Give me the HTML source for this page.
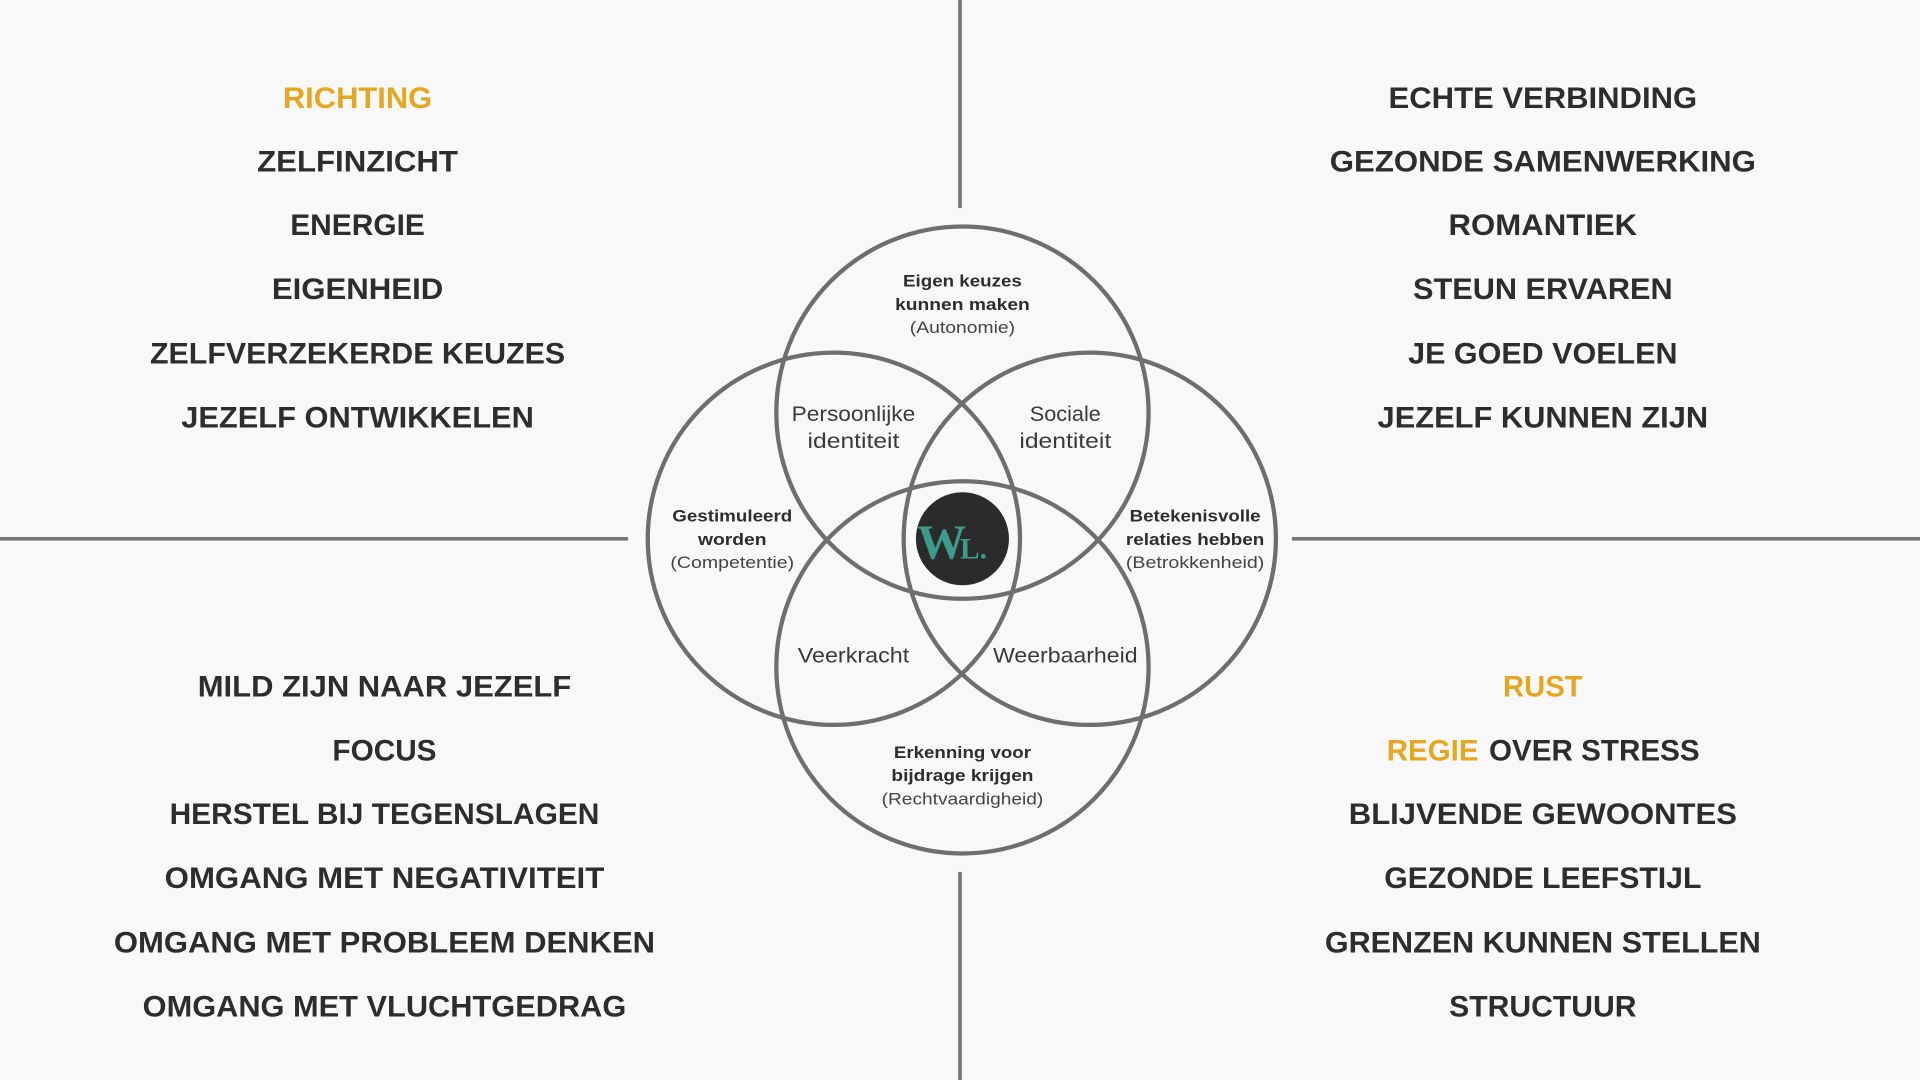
<!DOCTYPE html>
<html><head><meta charset="utf-8"><style>
html,body{margin:0;padding:0;background:#f8f8f8;}
svg{display:block;}
.b{font-family:"Liberation Sans",sans-serif;font-weight:bold;font-size:24px;fill:#2d2d2d;text-anchor:middle;}
.o{fill:#e5a722;}
.s{font-family:"Liberation Sans",sans-serif;font-weight:bold;font-size:13.5px;fill:#2d2d2d;text-anchor:middle;}
.r{font-family:"Liberation Sans",sans-serif;font-size:13.5px;fill:#444;text-anchor:middle;}
.m{font-family:"Liberation Sans",sans-serif;font-size:17px;fill:#3a3a3a;text-anchor:middle;}
</style></head><body>
<svg width="1920" height="1080" viewBox="0 0 1568 882" xmlns="http://www.w3.org/2000/svg">
<rect width="1568" height="882" fill="#f8f8f8"/>
<g stroke="#777" stroke-width="3" fill="none">
<line x1="784" y1="0" x2="784" y2="170"/>
<line x1="784" y1="712" x2="784" y2="882"/>
<line x1="0" y1="440" x2="513" y2="440"/>
<line x1="1055" y1="440" x2="1568" y2="440"/>
</g>
<g stroke="#6e6e6e" stroke-width="3.5" fill="none">
<circle cx="786" cy="337" r="152"/>
<circle cx="681" cy="440" r="152"/>
<circle cx="890" cy="440" r="152"/>
<circle cx="786" cy="545" r="152"/>
</g>
<circle cx="786" cy="440" r="38" fill="#2b2b2b"/>
<text x="749" y="456" font-family="Liberation Serif,serif" font-weight="bold" font-size="40" fill="#3d9b8b">W</text>
<text x="784" y="456" font-family="Liberation Serif,serif" font-weight="bold" font-size="24" fill="#3d9b8b">L.</text>

<g lengthAdjust="spacingAndGlyphs">
<text class="s" x="786" y="234" textLength="97" lengthAdjust="spacingAndGlyphs">Eigen keuzes</text>
<text class="s" x="786" y="253" textLength="110" lengthAdjust="spacingAndGlyphs">kunnen maken</text>
<text class="r" x="786" y="272" textLength="86" lengthAdjust="spacingAndGlyphs">(Autonomie)</text>
<text class="s" x="598" y="426" textLength="98" lengthAdjust="spacingAndGlyphs">Gestimuleerd</text>
<text class="s" x="598" y="445" textLength="56" lengthAdjust="spacingAndGlyphs">worden</text>
<text class="r" x="598" y="464" textLength="101" lengthAdjust="spacingAndGlyphs">(Competentie)</text>
<text class="s" x="976" y="426" textLength="107" lengthAdjust="spacingAndGlyphs">Betekenisvolle</text>
<text class="s" x="976" y="445" textLength="113" lengthAdjust="spacingAndGlyphs">relaties hebben</text>
<text class="r" x="976" y="464" textLength="113" lengthAdjust="spacingAndGlyphs">(Betrokkenheid)</text>
<text class="s" x="786" y="619" textLength="112" lengthAdjust="spacingAndGlyphs">Erkenning voor</text>
<text class="s" x="786" y="638" textLength="116" lengthAdjust="spacingAndGlyphs">bijdrage krijgen</text>
<text class="r" x="786" y="657" textLength="132" lengthAdjust="spacingAndGlyphs">(Rechtvaardigheid)</text>
<text class="m" x="697" y="344" textLength="101" lengthAdjust="spacingAndGlyphs">Persoonlijke</text>
<text class="m" x="697" y="366" textLength="75" lengthAdjust="spacingAndGlyphs">identiteit</text>
<text class="m" x="870" y="344" textLength="58" lengthAdjust="spacingAndGlyphs">Sociale</text>
<text class="m" x="870" y="366" textLength="75" lengthAdjust="spacingAndGlyphs">identiteit</text>
<text class="m" x="697" y="541" textLength="91" lengthAdjust="spacingAndGlyphs">Veerkracht</text>
<text class="m" x="870" y="541" textLength="118" lengthAdjust="spacingAndGlyphs">Weerbaarheid</text>
</g>

<text class="b o" x="292" y="88" textLength="122" lengthAdjust="spacingAndGlyphs">RICHTING</text>
<text class="b" x="292" y="140" textLength="164" lengthAdjust="spacingAndGlyphs">ZELFINZICHT</text>
<text class="b" x="292" y="192" textLength="110" lengthAdjust="spacingAndGlyphs">ENERGIE</text>
<text class="b" x="292" y="244" textLength="140" lengthAdjust="spacingAndGlyphs">EIGENHEID</text>
<text class="b" x="292" y="297" textLength="339" lengthAdjust="spacingAndGlyphs">ZELFVERZEKERDE KEUZES</text>
<text class="b" x="292" y="349" textLength="288" lengthAdjust="spacingAndGlyphs">JEZELF ONTWIKKELEN</text>

<text class="b" x="1260" y="88" textLength="252" lengthAdjust="spacingAndGlyphs">ECHTE VERBINDING</text>
<text class="b" x="1260" y="140" textLength="348" lengthAdjust="spacingAndGlyphs">GEZONDE SAMENWERKING</text>
<text class="b" x="1260" y="192" textLength="154" lengthAdjust="spacingAndGlyphs">ROMANTIEK</text>
<text class="b" x="1260" y="244" textLength="212" lengthAdjust="spacingAndGlyphs">STEUN ERVAREN</text>
<text class="b" x="1260" y="297" textLength="220" lengthAdjust="spacingAndGlyphs">JE GOED VOELEN</text>
<text class="b" x="1260" y="349" textLength="270" lengthAdjust="spacingAndGlyphs">JEZELF KUNNEN ZIJN</text>

<text class="b" x="314" y="569" textLength="305" lengthAdjust="spacingAndGlyphs">MILD ZIJN NAAR JEZELF</text>
<text class="b" x="314" y="621" textLength="85" lengthAdjust="spacingAndGlyphs">FOCUS</text>
<text class="b" x="314" y="673" textLength="351" lengthAdjust="spacingAndGlyphs">HERSTEL BIJ TEGENSLAGEN</text>
<text class="b" x="314" y="725" textLength="359" lengthAdjust="spacingAndGlyphs">OMGANG MET NEGATIVITEIT</text>
<text class="b" x="314" y="778" textLength="442" lengthAdjust="spacingAndGlyphs">OMGANG MET PROBLEEM DENKEN</text>
<text class="b" x="314" y="830" textLength="395" lengthAdjust="spacingAndGlyphs">OMGANG MET VLUCHTGEDRAG</text>

<text class="b o" x="1260" y="569" textLength="65" lengthAdjust="spacingAndGlyphs">RUST</text>
<text class="b o" x="1170" y="621" textLength="75" lengthAdjust="spacingAndGlyphs">REGIE</text>
<text class="b" x="1302" y="621" textLength="172" lengthAdjust="spacingAndGlyphs">OVER STRESS</text>
<text class="b" x="1260" y="673" textLength="317" lengthAdjust="spacingAndGlyphs">BLIJVENDE GEWOONTES</text>
<text class="b" x="1260" y="725" textLength="259" lengthAdjust="spacingAndGlyphs">GEZONDE LEEFSTIJL</text>
<text class="b" x="1260" y="778" textLength="356" lengthAdjust="spacingAndGlyphs">GRENZEN KUNNEN STELLEN</text>
<text class="b" x="1260" y="830" textLength="153" lengthAdjust="spacingAndGlyphs">STRUCTUUR</text>
</svg>
</body></html>
